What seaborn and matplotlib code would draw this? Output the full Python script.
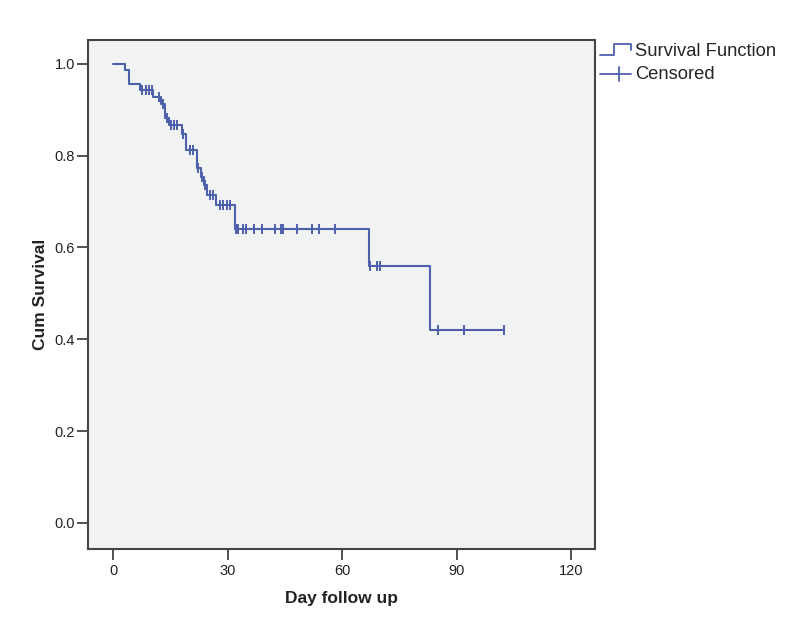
import numpy as np
import pandas as pd
import matplotlib
matplotlib.use("Agg")
import matplotlib.pyplot as plt
import seaborn as sns
from matplotlib.lines import Line2D
from matplotlib.legend_handler import HandlerBase

# ---- data ----
event_times = [0.0, 3.0, 4.0, 7.0, 10.5, 12.5, 13.5, 14.5, 18.0, 19.0, 22.0, 23.0, 23.8, 24.6, 26.9, 32.0, 67.0, 83.0]
event_surv = [1.000, 0.986, 0.957, 0.943, 0.928, 0.913, 0.881, 0.866, 0.848, 0.813, 0.773, 0.754, 0.735, 0.714, 0.692, 0.640, 0.560, 0.420]
censor_times = [7.6, 8.5, 9.3, 10.1, 12.0, 13.0, 14.0, 15.0, 15.9, 16.7, 18.3, 20.0, 21.0,
                22.3, 23.3, 24.1, 25.3, 26.2, 28.0, 28.8, 29.7, 30.6,
                32.1, 32.8, 33.9, 34.8, 36.8, 38.9, 42.3, 43.9, 44.6, 48.1, 52.0, 53.8, 58.1,
                67.3, 69.0, 69.8, 85.0, 92.0, 102.5]
x_ticks = [0, 30, 60, 90, 120]
y_ticks = [0.0, 0.2, 0.4, 0.6, 0.8, 1.0]
x_label = "Day follow up"
y_label = "Cum Survival"
legend_labels = ["Survival Function", "Censored"]

# ---- build frames ----
end_time = max(censor_times)
curve = pd.DataFrame({"t": event_times + [end_time], "s": event_surv + [event_surv[-1]]})
ev = np.array(event_times)
es = np.array(event_surv)
cens_s = [es[np.searchsorted(ev, t, side="right") - 1] for t in censor_times]
cens = pd.DataFrame({"t": censor_times, "s": cens_s})

sns.set_theme(style="white")
plt.rcParams["font.family"] = ["Liberation Sans", "DejaVu Sans"]

color = "#4d60ab"
fig = plt.figure(figsize=(7.88, 6.35), dpi=100)
ax = fig.add_axes([87.5 / 788, 1 - 549 / 635, (595 - 87.5) / 788, (549 - 40) / 635])
ax.set_facecolor("#f1f2f2")

sns.lineplot(data=curve, x="t", y="s", drawstyle="steps-post", color=color, lw=1.5, ax=ax,
             estimator=None, sort=False)
sns.scatterplot(data=cens, x="t", y="s", marker="|", s=55, color=color, linewidth=1.4, ax=ax)

ax.set_xlim(-6.8, 126.3)
ax.set_ylim(-0.057, 1.052)
ax.set_xticks(x_ticks)
ax.set_yticks(y_ticks)
ax.set_xticklabels([str(v) for v in x_ticks])
ax.set_yticklabels([f"{v:.1f}" for v in y_ticks])
ax.tick_params(axis="both", which="major", direction="out", length=8, width=1.2,
               color="#333333", labelsize=10.5, labelcolor="#222222", bottom=True, left=True)
ax.tick_params(axis="x", pad=3)
ax.tick_params(axis="y", pad=1)
for sp in ax.spines.values():
    sp.set_color("#444444")
    sp.set_linewidth(1.5)
ax.set_xlabel(x_label, fontsize=12.5, fontweight="bold", color="#222222", labelpad=9)
ax.set_ylabel(y_label, fontsize=12.5, fontweight="bold", color="#222222", labelpad=5)


class StepHandler(HandlerBase):
    def create_artists(self, legend, orig_handle, xdescent, ydescent, width, height, fontsize, trans):
        x0 = -xdescent
        y0 = -ydescent
        xs = [x0, x0 + width * 0.45, x0 + width * 0.45, x0 + width, x0 + width]
        ys = [y0 + 0.05 * height, y0 + 0.05 * height, y0 + 0.95 * height, y0 + 0.95 * height, y0 + 0.5 * height]
        ln = Line2D(xs, ys, color=orig_handle.get_color(), lw=orig_handle.get_linewidth())
        ln.set_transform(trans)
        return [ln]


class CensHandler(HandlerBase):
    def create_artists(self, legend, orig_handle, xdescent, ydescent, width, height, fontsize, trans):
        x0 = -xdescent
        y0 = -ydescent
        ym = y0 + height * 0.45
        l1 = Line2D([x0, x0 + width], [ym, ym], color=orig_handle.get_color(), lw=1.3)
        xm = x0 + width * 0.62
        l2 = Line2D([xm, xm], [ym - height * 0.55, ym + height * 0.55], color=orig_handle.get_color(), lw=1.3)
        l1.set_transform(trans)
        l2.set_transform(trans)
        return [l1, l2]


h1 = Line2D([], [], color=color, lw=1.3)
h2 = Line2D([], [], color=color, lw=1.3, marker="|")
fig.legend([h1, h2], legend_labels, loc="upper left", bbox_to_anchor=(600 / 788, 1 - 43 / 635),
           frameon=False, fontsize=13.2, handlelength=1.7, handletextpad=0.2, labelspacing=0.35,
           borderaxespad=0, borderpad=0,
           handler_map={h1: StepHandler(), h2: CensHandler()})

fig.savefig("out.png", dpi=100, facecolor="white")
